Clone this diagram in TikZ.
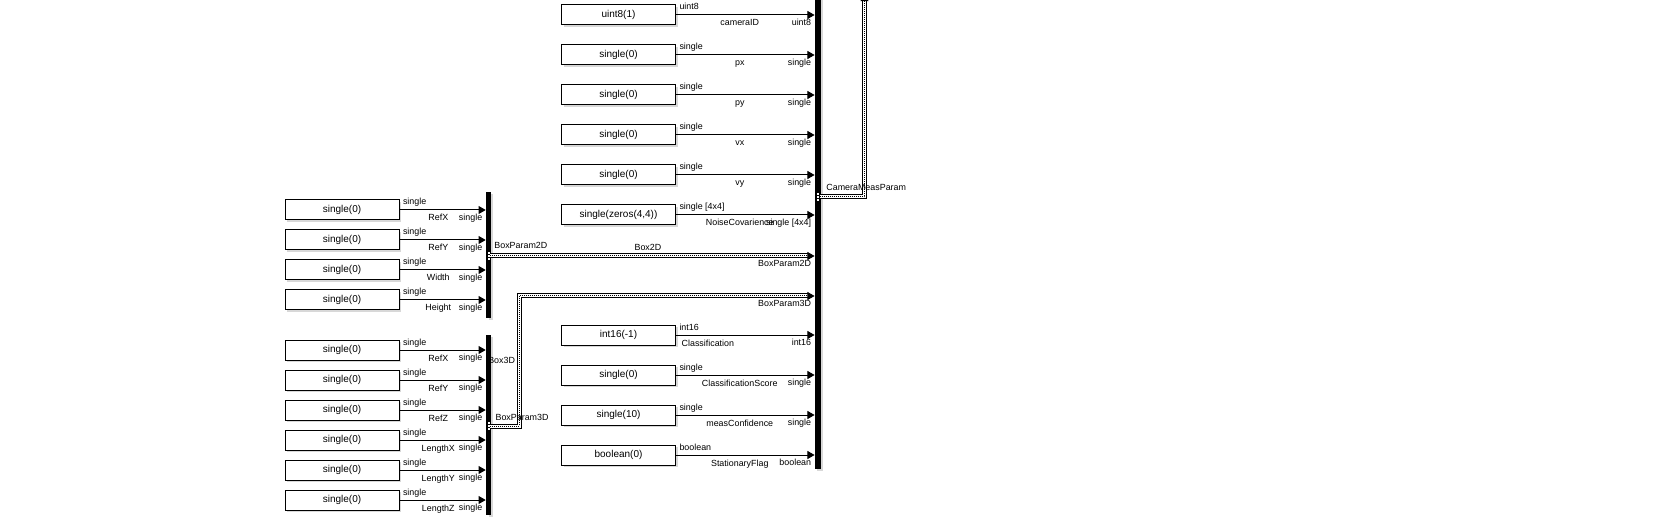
\documentclass[tikz,border=0pt]{standalone}
\usepackage{fontspec}
\setmainfont{Liberation Sans}
\usetikzlibrary{arrows.meta,shadows}
\newcommand{\blockfont}{\fontsize{5pt}{6pt}\selectfont}
\newcommand{\wirefont}{\fontsize{4.45pt}{5.3pt}\selectfont}

\begin{document}
\begin{tikzpicture}[x=0.5pt,y=-0.5pt,
  srcbox/.style={draw, fill=white, line width=0.5pt, minimum width=57pt, minimum height=10pt, inner sep=0pt, font=\blockfont, drop shadow={shadow xshift=1.2pt, shadow yshift=-1.2pt, opacity=0.3}},
  busbar/.style={fill=black, inner sep=0pt, drop shadow={shadow xshift=1.2pt, shadow yshift=-1.2pt, opacity=0.3}},
  portbox/.style={draw=black, fill=white, line width=0.3pt, minimum width=1.6pt, minimum height=4.4pt, inner sep=0pt, path picture={
      \draw[line width=0.3pt] ([yshift=0.7pt]path picture bounding box.west) -- ([yshift=0.7pt]path picture bounding box.east);
      \draw[line width=0.3pt] ([yshift=-0.7pt]path picture bounding box.west) -- ([yshift=-0.7pt]path picture bounding box.east);}},
  sigline/.style={line width=0.5pt, -{Triangle[length=3.6pt,width=4pt]}},
  busline/.style={line width=0.5pt, double, double distance=1.5pt, -{Triangle[length=3.6pt,width=4pt]}, postaction={draw, -, line width=0.5pt, dash pattern=on 0.5pt off 0.5pt, shorten >=3.6pt}},
  typein/.style={font=\wirefont, inner sep=0pt, anchor=base west, pos=0, xshift=1.5pt, yshift=2.5pt},
  signame/.style={font=\wirefont, inner sep=0pt, anchor=base, yshift=-5.5pt},
  busname/.style={font=\wirefont, inner sep=0pt, anchor=base, yshift=2.5pt},
  typeout/.style={font=\wirefont, inner sep=0pt, anchor=base east, pos=1, xshift=-1.5pt, yshift=-5.2pt}]
\useasboundingbox (0,0) rectangle (1673,523);
\fill[white] (0,0) rectangle (1673,523);
\clip (0,0) rectangle (1673,523);

\node[srcbox] (camID) at (618.5,15) {uint8(1)};
\node[srcbox] (px) at (618.5,55) {single(0)};
\node[srcbox] (py) at (618.5,95) {single(0)};
\node[srcbox] (vx) at (618.5,135) {single(0)};
\node[srcbox] (vy) at (618.5,175) {single(0)};
\node[srcbox] (noiseCov) at (618.5,215) {single(zeros(4,4))};
\node[srcbox] (cls) at (618.5,335) {int16(-1)};
\node[srcbox] (clsScore) at (618.5,375) {single(0)};
\node[srcbox] (measConf) at (618.5,415) {single(10)};
\node[srcbox] (statFlag) at (618.5,455) {boolean(0)};

\node[srcbox] (refX2) at (342,210) {single(0)};
\node[srcbox] (refY2) at (342,240) {single(0)};
\node[srcbox] (width2) at (342,270) {single(0)};
\node[srcbox] (height2) at (342,300) {single(0)};

\node[srcbox] (refX3) at (342,350) {single(0)};
\node[srcbox] (refY3) at (342,380) {single(0)};
\node[srcbox] (refZ3) at (342,410) {single(0)};
\node[srcbox] (lenX3) at (342,440) {single(0)};
\node[srcbox] (lenY3) at (342,470) {single(0)};
\node[srcbox] (lenZ3) at (342,500) {single(0)};

\node[busbar, minimum width=3pt, minimum height=239.5pt] (camBus) at (818,229.5) {};
\node[busbar, minimum width=2.4pt, minimum height=63pt] (bus2d) at (488.5,255) {};
\node[busbar, minimum width=2.4pt, minimum height=90pt] (bus3d) at (488.5,425) {};

\node[portbox] (port2d) at (488.5,256) {};
\node[portbox] (port3d) at (488.5,426) {};
\node[portbox] (portCam) at (818,197) {};

\coordinate (turn3d) at (519.5,296);
\coordinate (camTop) at (864.5,-6);

\draw[sigline] (camID.east) -- node[typein]{uint8} node[signame, pos=0.46]{cameraID} node[typeout]{uint8} (camID.east -| camBus.west);
\draw[sigline] (px.east) -- node[typein]{single} node[signame, pos=0.46]{px} node[typeout]{single} (px.east -| camBus.west);
\draw[sigline] (py.east) -- node[typein]{single} node[signame, pos=0.46]{py} node[typeout]{single} (py.east -| camBus.west);
\draw[sigline] (vx.east) -- node[typein]{single} node[signame, pos=0.46]{vx} node[typeout]{single} (vx.east -| camBus.west);
\draw[sigline] (vy.east) -- node[typein]{single} node[signame, pos=0.46]{vy} node[typeout]{single} (vy.east -| camBus.west);
\draw[sigline] (noiseCov.east) -- node[typein]{single [4x4]} node[signame, pos=0.46]{NoiseCovarience} node[typeout]{single [4x4]} (noiseCov.east -| camBus.west);
\draw[sigline] (cls.east) -- node[typein]{int16} node[signame, pos=0.23]{Classification} node[typeout]{int16} (cls.east -| camBus.west);
\draw[sigline] (clsScore.east) -- node[typein]{single} node[signame, pos=0.46]{ClassificationScore} node[typeout]{single} (clsScore.east -| camBus.west);
\draw[sigline] (measConf.east) -- node[typein]{single} node[signame, pos=0.46]{measConfidence} node[typeout]{single} (measConf.east -| camBus.west);
\draw[sigline] (statFlag.east) -- node[typein]{boolean} node[signame, pos=0.46]{StationaryFlag} node[typeout]{boolean} (statFlag.east -| camBus.west);

\draw[sigline] (refX2.east) -- node[typein]{single} node[signame, pos=0.45]{RefX} node[typeout]{single} (refX2.east -| bus2d.west);
\draw[sigline] (refY2.east) -- node[typein]{single} node[signame, pos=0.45]{RefY} node[typeout]{single} (refY2.east -| bus2d.west);
\draw[sigline] (width2.east) -- node[typein]{single} node[signame, pos=0.45]{Width} node[typeout]{single} (width2.east -| bus2d.west);
\draw[sigline] (height2.east) -- node[typein]{single} node[signame, pos=0.45]{Height} node[typeout]{single} (height2.east -| bus2d.west);

\draw[sigline] (refX3.east) -- node[typein]{single} node[signame, pos=0.45]{RefX} node[typeout]{single} (refX3.east -| bus3d.west);
\draw[sigline] (refY3.east) -- node[typein]{single} node[signame, pos=0.45]{RefY} node[typeout]{single} (refY3.east -| bus3d.west);
\draw[sigline] (refZ3.east) -- node[typein]{single} node[signame, pos=0.45]{RefZ} node[typeout]{single} (refZ3.east -| bus3d.west);
\draw[sigline] (lenX3.east) -- node[typein]{single} node[signame, pos=0.45]{LengthX} node[typeout]{single} (lenX3.east -| bus3d.west);
\draw[sigline] (lenY3.east) -- node[typein]{single} node[signame, pos=0.45]{LengthY} node[typeout]{single} (lenY3.east -| bus3d.west);
\draw[sigline] (lenZ3.east) -- node[typein]{single} node[signame, pos=0.45]{LengthZ} node[typeout]{single} (lenZ3.east -| bus3d.west);

\draw[busline] (port2d.east) -- node[typein, xshift=0.25pt, yshift=1pt]{BoxParam2D} node[busname, pos=0.486]{Box2D} node[typeout]{BoxParam2D} (port2d.east -| camBus.west);
\draw[busline] (port3d.east) -| node[typein, xshift=0.85pt, yshift=0.5pt]{BoxParam3D} node[pos=0.742, font=\wirefont, inner sep=0pt, anchor=base east, xshift=-2pt]{Box3D} (turn3d) -- node[typeout]{BoxParam3D} (turn3d -| camBus.west);
\draw[busline] (portCam.east) -| node[typein, xshift=1.5pt, yshift=0.5pt]{CameraMeasParam} (camTop);
\end{tikzpicture}
\end{document}
